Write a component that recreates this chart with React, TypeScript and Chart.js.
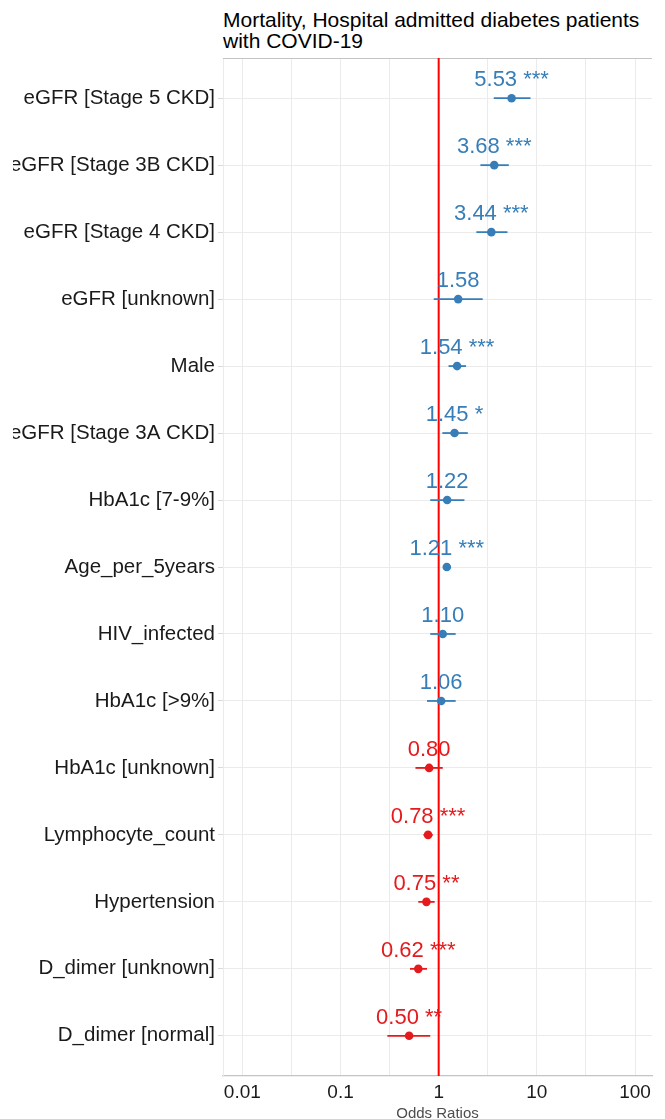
import React, { useEffect, useRef } from "react";
import { Chart, registerables } from "chart.js";

Chart.register(...registerables);

const titleLines = ["Mortality, Hospital admitted diabetes patients", "with COVID-19"];
const xAxisTitle = "Odds Ratios";

const labels = [
  "eGFR [Stage 5 CKD]",
  "eGFR [Stage 3B CKD]",
  "eGFR [Stage 4 CKD]",
  "eGFR [unknown]",
  "Male",
  "eGFR [Stage 3A CKD]",
  "HbA1c [7-9%]",
  "Age_per_5years",
  "HIV_infected",
  "HbA1c [>9%]",
  "HbA1c [unknown]",
  "Lymphocyte_count",
  "Hypertension",
  "D_dimer [unknown]",
  "D_dimer [normal]",
];
const oddsRatios = [5.53, 3.68, 3.44, 1.58, 1.54, 1.45, 1.22, 1.21, 1.1, 1.06, 0.8, 0.78, 0.75, 0.62, 0.5];
const ciLow = [3.64, 2.66, 2.42, 0.89, 1.26, 1.09, 0.82, 1.17, 0.82, 0.76, 0.58, 0.7, 0.62, 0.51, 0.3];
const ciHigh = [8.62, 5.18, 5.02, 2.81, 1.9, 1.98, 1.83, 1.25, 1.49, 1.49, 1.1, 0.87, 0.91, 0.76, 0.82];
const stars = ["***", "***", "***", "", "***", "*", "", "***", "", "", "", "***", "**", "***", "**"];

const xMajorTicks = [0.01, 0.1, 1, 10, 100];
const xMinorTicks = [0.0316, 0.316, 3.16, 31.6];
const xMin = 0.00635;
const xMax = 149;

const BLUE = "#377eb8";
const RED = "#e41a1c";
const FONT = "Arial, 'Liberation Sans', sans-serif";

export default function App() {
  const ref = useRef<HTMLCanvasElement | null>(null);

  useEffect(() => {
    if (!ref.current) return;
    const colors = oddsRatios.map((v) => (v > 1 ? BLUE : RED));

    const ciSets = oddsRatios.map((_, i) => ({
      data: [
        { x: ciLow[i], y: i },
        { x: ciHigh[i], y: i },
      ],
      showLine: true,
      borderColor: colors[i],
      borderWidth: 1.8,
      pointRadius: 0,
      order: 2,
    }));

    const pointSet = {
      data: oddsRatios.map((v, i) => ({ x: v, y: i })),
      pointRadius: 4.3,
      pointBackgroundColor: colors,
      pointBorderColor: colors,
      pointBorderWidth: 0,
      showLine: false,
      order: 1,
    };

    const refLine = {
      id: "refLine",
      beforeDatasetsDraw(chart: any) {
        const { ctx, chartArea } = chart;
        const x = chart.scales.x.getPixelForValue(1);
        ctx.save();
        ctx.strokeStyle = "#c4c4c4";
        ctx.lineWidth = 1.2;
        ctx.beginPath();
        ctx.moveTo(chartArea.left, chartArea.top + 0.5);
        ctx.lineTo(chartArea.right, chartArea.top + 0.5);
        ctx.stroke();
        ctx.strokeStyle = "#ff0000";
        ctx.lineWidth = 2;
        ctx.beginPath();
        ctx.moveTo(x, chartArea.top);
        ctx.lineTo(x, chartArea.bottom);
        ctx.stroke();
        ctx.restore();
      },
    };

    const valueLabels = {
      id: "valueLabels",
      afterDatasetsDraw(chart: any) {
        const { ctx } = chart;
        ctx.save();
        ctx.font = `22px ${FONT}`;
        ctx.textAlign = "center";
        ctx.textBaseline = "alphabetic";
        oddsRatios.forEach((v, i) => {
          const x = chart.scales.x.getPixelForValue(v);
          const y = chart.scales.y.getPixelForValue(i);
          const txt = (v.toFixed(2) + " " + stars[i]).trim();
          ctx.fillStyle = colors[i];
          ctx.fillText(txt, x, y - 12);
        });
        ctx.restore();
      },
    };

    const chart = new Chart(ref.current, {
      type: "scatter",
      data: { datasets: [...ciSets, pointSet] as any },
      options: {
        animation: false,
        responsive: false,
        devicePixelRatio: 1,
        layout: { padding: { top: 58, right: 13, bottom: 0, left: 0 } },
        plugins: {
          legend: { display: false },
          tooltip: { enabled: false },
          title: { display: false },
        },
        scales: {
          x: {
            type: "logarithmic",
            min: xMin,
            max: xMax,
            afterBuildTicks(scale: any) {
              scale.ticks = [...xMajorTicks, ...xMinorTicks]
                .sort((a, b) => a - b)
                .map((v) => ({ value: v, major: xMajorTicks.includes(v) }));
            },
            afterFit(scale: any) {
              scale.height = 43;
            },
            ticks: {
              autoSkip: false,
              maxRotation: 0,
              padding: 5,
              color: "#1a1a1a",
              font: { family: FONT, size: 19 },
              callback: (value: any) => (xMajorTicks.includes(Number(value)) ? String(value) : ""),
            },
            grid: {
              color: "#ebebeb",
              lineWidth: 1,
              drawTicks: false,
            },
            border: { color: "#c4c4c4", width: 1.2 },
            title: {
              display: true,
              text: xAxisTitle,
              color: "#4d4d4d",
              font: { family: FONT, size: 15 },
              padding: { top: 0, bottom: -4 },
            },
          },
          y: {
            type: "linear",
            reverse: true,
            min: -0.6,
            max: 14.6,
            afterBuildTicks(scale: any) {
              scale.ticks = labels.map((_, i) => ({ value: i }));
            },
            afterFit(scale: any) {
              scale.width = 210;
            },
            ticks: {
              autoSkip: false,
              padding: 3,
              color: "#1a1a1a",
              font: { family: FONT, size: 20.5 },
              callback: (value: any) => labels[Number(value)] ?? "",
            },
            grid: {
              color: "#ebebeb",
              lineWidth: 1,
              drawTicks: true,
              tickLength: 5,
              tickColor: "#d9d9d9",
            },
            border: { color: "#ebebeb", width: 1 },
          },
        },
      },
      plugins: [refLine, valueLabels],
    });

    return () => chart.destroy();
  }, []);

  return (
    <div style={{ position: "absolute", left: 0, top: 0, width: 665, height: 1119, background: "#fff", overflow: "hidden" }}>
      <div
        style={{
          position: "absolute",
          left: 223,
          top: 9,
          font: `21px ${FONT}`,
          lineHeight: "21px",
          color: "#000",
          whiteSpace: "nowrap",
        }}
      >
        {titleLines.map((t) => (
          <div key={t}>{t}</div>
        ))}
      </div>
      <canvas
        ref={ref}
        width={652}
        height={1119}
        style={{ position: "absolute", left: 13, top: 0, width: 652, height: 1119 }}
      />
    </div>
  );
}
